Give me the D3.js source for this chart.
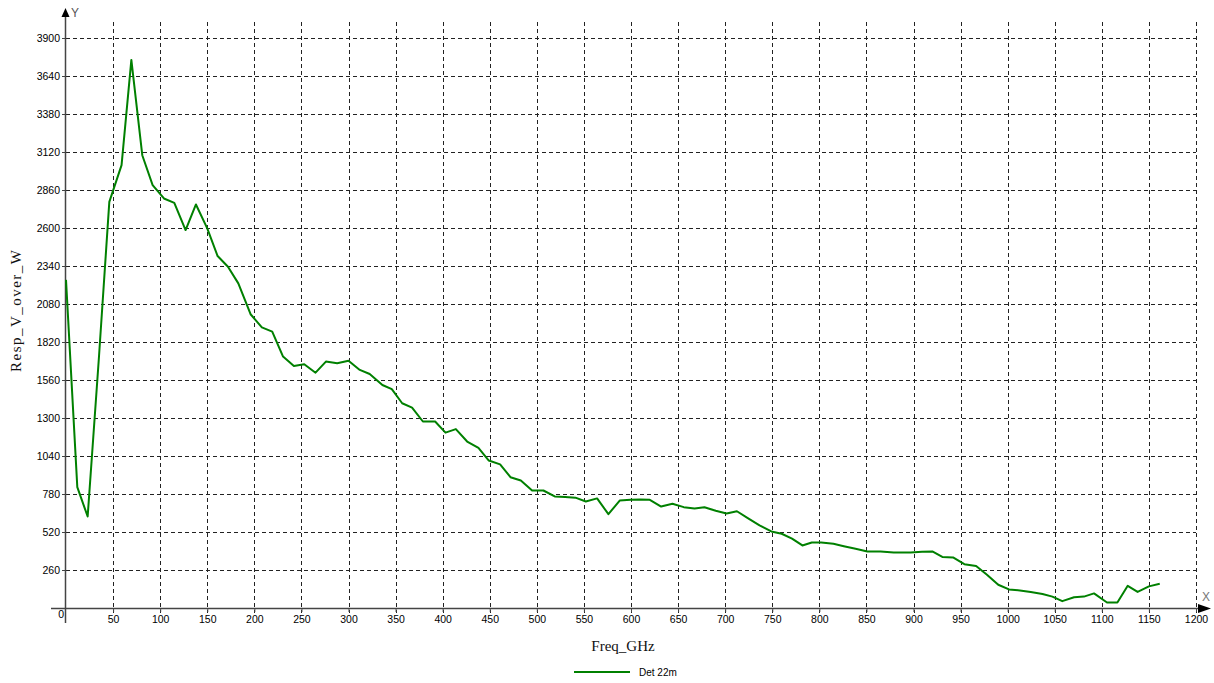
<!DOCTYPE html>
<html lang="en">
  <head>
    <meta charset="utf-8" />
    <title>Resp_V_over_W vs Freq_GHz</title>
    <script src="https://d3js.org/d3.v7.min.js"></script>
    <style>
      body {
        margin: 0;
        background: #fff;
        font-family: "Liberation Sans", Arial, sans-serif;
      }
      svg {
        display: block;
      }
      .tick text {
        font-size: 10.5px;
        fill: #000;
      }
      .tick line {
        stroke: #444;
      }
      .grid line {
        stroke: #222;
        stroke-dasharray: 4, 3;
        shape-rendering: crispEdges;
      }
      .title {
        font-family: "Liberation Serif", "Times New Roman", serif;
        font-size: 15px;
        fill: #111;
      }
    </style>
  </head>
  <body>
    <div id="chart"></div>
    <script>
      /* ----------------------------- DATA ----------------------------- */
      const freqGHz = [
        0, 12, 23, 35, 46, 59, 69.4, 81, 92, 104, 115, 127, 138, 150, 161, 172,
        183, 196, 208, 219, 230.5, 242, 253, 265, 276, 288, 300, 312, 322.5, 336,
        346, 357, 367.5, 379, 392, 403, 414, 426, 438, 449, 461, 472, 483, 495,
        507, 519, 530, 541, 552, 564, 576, 588, 599.5, 610, 620, 632, 644, 656,
        667.5, 678, 690, 701.5, 712.5, 724, 736.5, 749, 760, 771, 782, 792, 802,
        815, 826, 838.5, 851, 865, 879, 897, 909, 920, 930.6, 942, 954, 966.5,
        978, 990, 1001.4, 1013, 1024.5, 1037, 1047.5, 1058, 1070.5, 1081, 1091.7,
        1105.5, 1116.5, 1127.5, 1138, 1150, 1161.5,
      ];
      const respVW = [
        2245, 827, 626, 1717, 2779, 3030, 3750, 3098, 2893, 2802, 2772, 2586,
        2761, 2597, 2408, 2335, 2221, 2010, 1920, 1891, 1720, 1656, 1668, 1610,
        1686, 1675, 1692, 1629, 1601, 1526, 1497, 1401, 1371, 1276, 1276, 1200,
        1224, 1139, 1095, 1009, 983, 895, 872, 804, 804, 763, 759, 755, 729, 750,
        642, 735, 740, 742, 740, 694, 713, 690, 680, 689, 665, 647, 662, 615, 566,
        524, 508, 475, 428, 448, 448, 440, 423, 405, 387, 387, 380, 380, 385, 387,
        349, 346, 300, 287, 228, 159, 127, 120, 109, 96, 78, 47, 74, 78, 100, 38,
        38, 152, 110, 148, 166,
      ];
      const seriesName = 'Det 22m';
      const xTicks = [
        50, 100, 150, 200, 250, 300, 350, 400, 450, 500, 550, 600, 650, 700, 750,
        800, 850, 900, 950, 1000, 1050, 1100, 1150, 1200,
      ];
      const yTicks = [
        260, 520, 780, 1040, 1300, 1560, 1820, 2080, 2340, 2600, 2860, 3120,
        3380, 3640, 3900,
      ];

      /* ---------------------------- LAYOUT ---------------------------- */
      const svgW = 1214,
        svgH = 683;
      const x0 = 66,
        x1 = 1196,
        y0 = 608,
        y1 = 38,
        gridTop = 22;

      const svg = d3
        .select('#chart')
        .append('svg')
        .attr('width', svgW)
        .attr('height', svgH);

      const x = d3.scaleLinear().domain([0, 1200]).range([x0, x1]);
      const y = d3.scaleLinear().domain([0, 3900]).range([y0, y1]);
      const fmt = d3.format('d');

      /* ----------------------------- GRID ----------------------------- */
      const grid = svg.append('g').attr('class', 'grid');
      grid
        .selectAll('line.h')
        .data(yTicks)
        .join('line')
        .attr('class', 'h')
        .attr('x1', x0)
        .attr('x2', x(1200))
        .attr('y1', (d) => Math.round(y(d)) + 0.5)
        .attr('y2', (d) => Math.round(y(d)) + 0.5);
      grid
        .selectAll('line.v')
        .data(xTicks)
        .join('line')
        .attr('class', 'v')
        .attr('x1', (d) => Math.round(x(d)) + 0.5)
        .attr('x2', (d) => Math.round(x(d)) + 0.5)
        .attr('y1', gridTop)
        .attr('y2', y0 + 5);

      /* ----------------------------- AXES ----------------------------- */
      const xAxis = svg
        .append('g')
        .attr('transform', `translate(0,${y0})`)
        .call(
          d3
            .axisBottom(x)
            .tickValues(xTicks)
            .tickFormat(fmt)
            .tickSize(4)
            .tickSizeOuter(0),
        );
      xAxis.select('.domain').remove();
      xAxis.selectAll('.tick text').attr('dy', '0.78em');

      const yAxis = svg
        .append('g')
        .attr('transform', `translate(${x0},0)`)
        .call(
          d3
            .axisLeft(y)
            .tickValues(yTicks)
            .tickFormat(fmt)
            .tickSize(4)
            .tickPadding(2)
            .tickSizeOuter(0),
        );
      yAxis.select('.domain').remove();

      // shared origin label
      svg
        .append('text')
        .attr('x', x0 - 2)
        .attr('y', y0 + 6)
        .attr('text-anchor', 'end')
        .attr('dy', '0.35em')
        .style('font-size', '10.5px')
        .text('0');

      // axis lines with arrow heads
      svg
        .append('line')
        .attr('x1', 51)
        .attr('x2', 1199)
        .attr('y1', y0 + 0.5)
        .attr('y2', y0 + 0.5)
        .attr('stroke', '#444')
        .attr('stroke-width', 1.5);
      svg
        .append('line')
        .attr('x1', x0 - 0.5)
        .attr('x2', x0 - 0.5)
        .attr('y1', 16)
        .attr('y2', 623)
        .attr('stroke', '#444')
        .attr('stroke-width', 1.5);
      svg
        .append('path')
        .attr('d', `M${x0 - 0.5},8 L${x0 - 4.5},17 L${x0 + 3.5},17 Z`)
        .attr('fill', '#000');
      svg
        .append('path')
        .attr('d', `M1211,${y0 + 0.5} L1198,${y0 - 4} L1198,${y0 + 5} Z`)
        .attr('fill', '#000');
      svg
        .append('text')
        .attr('x', 71)
        .attr('y', 13)
        .attr('dy', '0.35em')
        .style('font-size', '12px')
        .attr('fill', '#555')
        .text('Y');
      svg
        .append('text')
        .attr('x', 1202)
        .attr('y', 597)
        .attr('dy', '0.35em')
        .style('font-size', '12px')
        .attr('fill', '#777')
        .text('X');

      /* ---------------------------- TITLES ---------------------------- */
      svg
        .append('text')
        .attr('class', 'title')
        .attr('x', 623)
        .attr('y', 651)
        .attr('text-anchor', 'middle')
        .text('Freq_GHz');
      svg
        .append('text')
        .attr('class', 'title')
        .attr('transform', 'translate(21,311) rotate(-90)')
        .attr('text-anchor', 'middle')
        .attr('textLength', 122)
        .attr('lengthAdjust', 'spacing')
        .text('Resp_V_over_W');

      /* ----------------------------- LINE ----------------------------- */
      const pts = freqGHz.map((f, i) => ({ f, v: respVW[i] }));
      const line = d3
        .line()
        .x((d) => x(d.f))
        .y((d) => y(d.v));
      svg
        .append('path')
        .datum(pts)
        .attr('fill', 'none')
        .attr('stroke', '#008000')
        .attr('stroke-width', 2)
        .attr('stroke-linejoin', 'round')
        .attr('d', line);

      /* ---------------------------- LEGEND ---------------------------- */
      const legend = svg.append('g').attr('transform', 'translate(574,672)');
      legend
        .append('line')
        .attr('x1', 0)
        .attr('x2', 56)
        .attr('stroke', '#008000')
        .attr('stroke-width', 2);
      legend
        .append('text')
        .attr('x', 65)
        .attr('dy', '0.35em')
        .style('font-size', '10px')
        .text(seriesName);
    </script>
  </body>
</html>
